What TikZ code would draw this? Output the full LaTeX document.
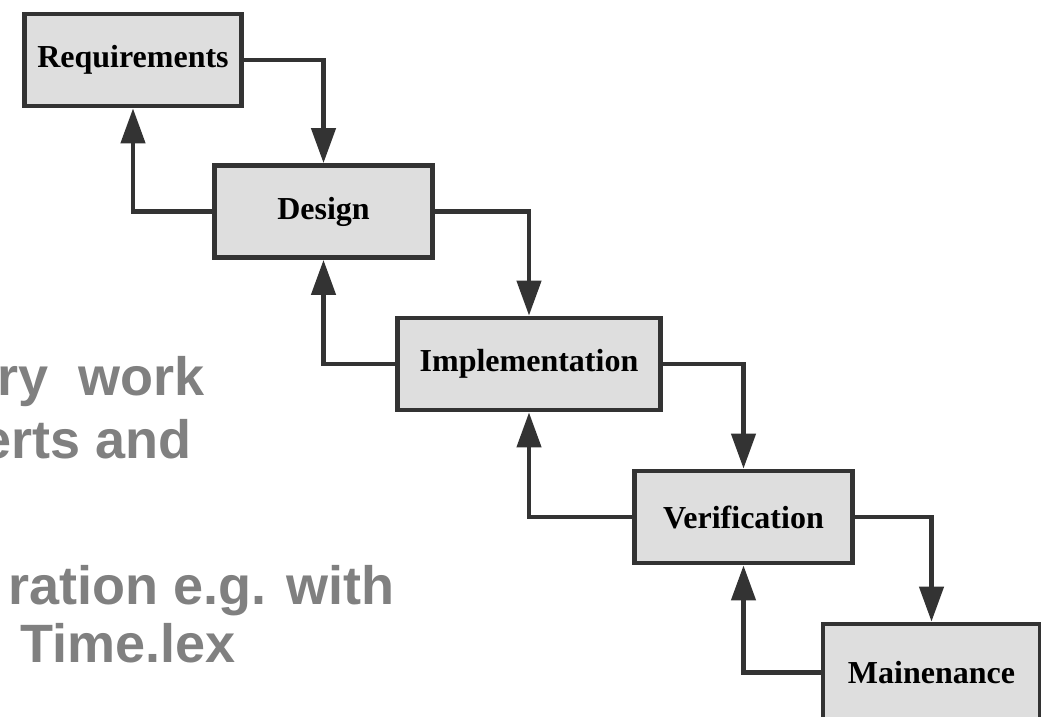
\documentclass[tikz,border=0pt]{standalone}
\usepackage{fontspec}
\usetikzlibrary{arrows.meta}
\newfontfamily\boxfont{Liberation Serif}
\newfontfamily\slidefont{Liberation Sans}
\definecolor{edgegray}{HTML}{333333}
\definecolor{boxfill}{HTML}{DEDEDE}
\definecolor{slidegray}{HTML}{808080}
\begin{document}
\begin{tikzpicture}[x=1pt,y=-1pt,
  phase/.style={draw=edgegray, fill=boxfill, line width=4.8pt, minimum height=92pt,
    inner sep=0pt, font=\boxfont\bfseries\fontsize{32}{36}\selectfont},
  flow/.style={draw=edgegray, line width=4.5pt, -{Triangle[width=24pt,length=35pt]}},
  slidetext/.style={text=slidegray, inner sep=0pt, anchor=base east,
    font=\slidefont\bfseries\fontsize{54}{60}\selectfont}]
\clip (0,0) rectangle (1041,716);
\fill[white] (0,0) rectangle (1041,716);
% background slide text (cut off at left)
\node[slidetext] (t1) at (205,395) {ry\ \ work};
\node[slidetext] (t2) at (192,458) {erts and};
\node[slidetext] (t3) at (395,604) {ration e.g. with};
\node[slidetext, anchor=base west] (t4) at (20,662) {Time.lex};
% phases
\node[phase, minimum width=217pt] (req) at (133,60) {Requirements};
\node[phase, minimum width=218pt] (des) at (323.5,211.5) {Design};
\node[phase, minimum width=263pt] (imp) at (529,364) {Implementation};
\node[phase, minimum width=218pt] (ver) at (743.5,517) {Verification};
\node[phase, minimum width=217pt, minimum height=97pt] (mai) at (931.5,672.5) {Mainenance};
% forward flow
\draw[flow] (req.east) -| (des.north);
\draw[flow] (des.east) -| (imp.north);
\draw[flow] (imp.east) -| (ver.north);
\draw[flow] (ver.east) -| (mai.north);
% feedback
\draw[flow] (des.west) -| (req.south);
\draw[flow] (imp.west) -| (des.south);
\draw[flow] (ver.west) -| (imp.south);
\draw[flow] (mai.west) -| (ver.south);
\end{tikzpicture}
\end{document}
